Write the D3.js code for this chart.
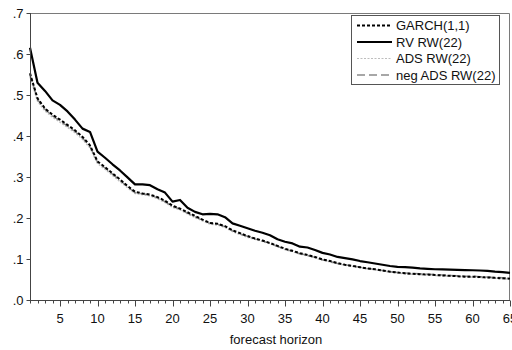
<!DOCTYPE html>
<html>
<head>
<meta charset="utf-8">
<script src="https://cdn.jsdelivr.net/npm/d3@7"></script>
<style>
  html, body { margin: 0; padding: 0; background: #fff; }
  svg { display: block; }
  text { font-family: "Liberation Sans", Arial, sans-serif; }
</style>
</head>
<body>
<svg id="chart" width="512" height="350"></svg>
<script>
// Forecast horizons 1..65
const horizons = d3.range(1, 66);

const garch = [
  .553, .492, .467, .452, .440, .427, .414, .398, .377, .338,
  .324, .309, .294, .278, .264, .260, .257, .251, .242, .230,
  .223, .214, .205, .196, .188, .186, .180, .170, .163, .156,
  .150, .145, .139, .132, .125, .120, .114, .110, .105, .099,
  .095, .090, .086, .083, .080, .077, .075, .072, .069, .067,
  .065, .064, .063, .062, .061, .060, .059, .058, .057, .057,
  .056, .055, .054, .053, .052
];

const rvRW = [
  .615, .530, .510, .487, .476, .460, .440, .418, .410, .362,
  .347, .331, .316, .299, .282, .282, .280, .270, .262, .240,
  .244, .225, .215, .209, .210, .209, .202, .187, .181, .175,
  .169, .164, .158, .148, .142, .138, .130, .128, .122, .115,
  .111, .105, .102, .099, .095, .092, .089, .086, .083, .081,
  .080, .079, .077, .076, .075, .0745, .074, .0735, .073, .0725,
  .072, .071, .069, .068, .066
];

const adsRW = [
  .545, .485, .461, .446, .434, .421, .408, .392, .371, .333,
  .319, .304, .289, .274, .260, .257, .254, .247, .238, .226,
  .220, .210, .201, .193, .185, .183, .177, .167, .160, .153,
  .148, .143, .137, .130, .123, .118, .112, .108, .103, .097,
  .093, .088, .085, .082, .079, .076, .074, .071, .068, .066,
  .064, .063, .062, .061, .060, .059, .058, .058, .057, .056,
  .055, .054, .053, .052, .051
];

const negAdsRW = [
  .550, .489, .465, .449, .437, .424, .411, .395, .374, .336,
  .322, .307, .292, .276, .262, .259, .256, .249, .240, .228,
  .222, .212, .203, .195, .187, .185, .179, .169, .162, .155,
  .149, .144, .138, .131, .124, .119, .113, .109, .104, .098,
  .094, .089, .086, .083, .080, .077, .075, .072, .069, .067,
  .066, .065, .064, .063, .062, .061, .060, .059, .058, .058,
  .057, .056, .055, .054, .053
];

const yTicks = [0, .1, .2, .3, .4, .5, .6, .7];
const yTickLabels = [".0", ".1", ".2", ".3", ".4", ".5", ".6", ".7"];
const xTickLabels = [5, 10, 15, 20, 25, 30, 35, 40, 45, 50, 55, 60, 65];

const seriesNames = ["GARCH(1,1)", "RV RW(22)", "ADS RW(22)", "neg ADS RW(22)"];
const seriesData = [garch, rvRW, adsRW, negAdsRW];

// Drawing styles for each series
const styles = [
  { stroke: "#000", width: 2, dash: "3,2" },
  { stroke: "#000", width: 2.2, dash: null },
  { stroke: "#bdbdbd", width: 1.5, dash: "2,1.5" },
  { stroke: "#8a8a8a", width: 1.5, dash: "8,4" }
];

const svg = d3.select("#chart");
const plotLeft = 30, plotRight = 510, plotTop = 13, plotBottom = 300;

const x = d3.scaleLinear().domain([1, 65]).range([plotLeft, plotRight]);
const y = d3.scaleLinear().domain([0, 0.7]).range([plotBottom, plotTop]);

// Frame (top and right edges)
svg.append("path")
  .attr("d", `M${plotLeft},${plotTop + 0.5}H${plotRight - 0.5}V${plotBottom}`)
  .attr("fill", "none")
  .attr("stroke", "#7a7a7a")
  .attr("stroke-width", 1);

// Lines (light ones first so the dark ones sit on top)
const line = d3.line()
  .x((d, i) => x(horizons[i]))
  .y(d => y(d));

const order = [2, 3, 0, 1];
order.forEach(k => {
  const s = styles[k];
  svg.append("path")
    .datum(seriesData[k])
    .attr("fill", "none")
    .attr("stroke", s.stroke)
    .attr("stroke-width", s.width)
    .attr("stroke-dasharray", s.dash)
    .attr("stroke-linejoin", "round")
    .attr("d", line);
});

// Y axis
const yAxis = d3.axisLeft(y)
  .tickValues(yTicks)
  .tickFormat((d, i) => yTickLabels[i])
  .tickSize(4)
  .tickPadding(3);
const gy = svg.append("g")
  .attr("transform", `translate(${plotLeft + 0.5},0)`)
  .call(yAxis);
gy.select(".domain").attr("stroke", "#444").attr("d", `M0,${plotTop}V${plotBottom}`);
gy.selectAll(".tick line").attr("stroke", "#444");
gy.selectAll(".tick text")
  .attr("font-size", 13)
  .attr("fill", "#111")
  .attr("font-family", "'Liberation Sans', Arial, sans-serif");

// X axis: a tick at every horizon, longer ticks at labelled ones
const gx = svg.append("g")
  .attr("transform", `translate(0,${plotBottom + 0.5})`);
gx.append("path")
  .attr("d", `M${plotLeft},0H${plotRight}`)
  .attr("stroke", "#444")
  .attr("fill", "none");
gx.selectAll("line.minor")
  .data(horizons)
  .join("line")
  .attr("class", "minor")
  .attr("x1", d => Math.round(x(d)) + 0.5)
  .attr("x2", d => Math.round(x(d)) + 0.5)
  .attr("y1", 0)
  .attr("y2", d => (d % 5 === 0 ? 6 : 3))
  .attr("stroke", "#444");
gx.selectAll("text.lbl")
  .data(xTickLabels)
  .join("text")
  .attr("class", "lbl")
  .attr("x", d => x(d))
  .attr("y", 22)
  .attr("text-anchor", "middle")
  .attr("font-size", 13)
  .attr("fill", "#111")
  .text(d => d);

// Axis title
svg.append("text")
  .attr("x", 276)
  .attr("y", 344)
  .attr("text-anchor", "middle")
  .attr("font-size", 13)
  .attr("fill", "#111")
  .text("forecast horizon");

// Legend
const lg = svg.append("g");
lg.append("rect")
  .attr("x", 351.5).attr("y", 15.5)
  .attr("width", 148).attr("height", 69)
  .attr("fill", "#fff")
  .attr("stroke", "#555");
const rowY = [25.5, 42, 58.5, 75];
seriesNames.forEach((name, k) => {
  const s = styles[k];
  lg.append("line")
    .attr("x1", 357).attr("x2", 392)
    .attr("y1", rowY[k]).attr("y2", rowY[k])
    .attr("stroke", s.stroke)
    .attr("stroke-width", k === 2 ? 1 : s.width)
    .attr("stroke-dasharray", s.dash);
  lg.append("text")
    .attr("x", 396)
    .attr("y", rowY[k])
    .attr("dy", "0.35em")
    .attr("font-size", 13)
    .attr("fill", "#111")
    .text(name);
});
</script>
</body>
</html>
